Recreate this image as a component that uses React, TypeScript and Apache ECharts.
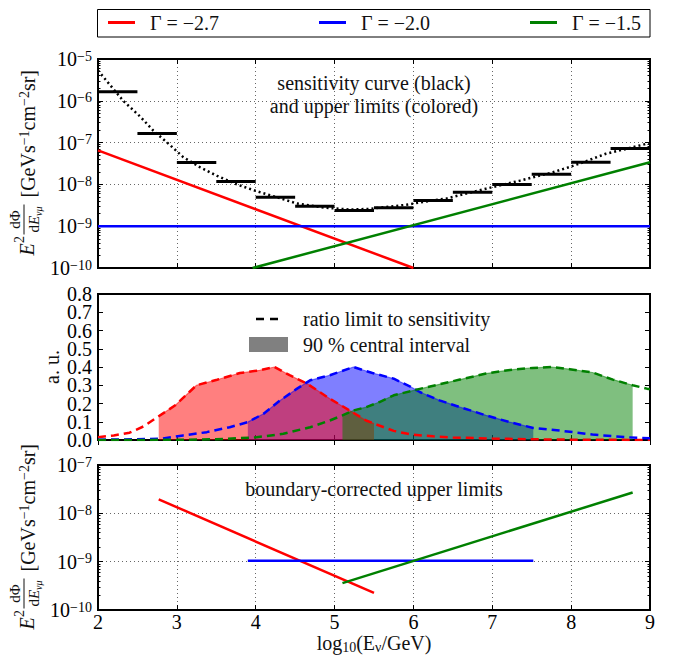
import React, { useEffect, useRef } from 'react';
import * as echarts from 'echarts';

const FONT = "'Liberation Serif', 'Times New Roman', 'DejaVu Serif', serif";

// ---------- Panel 1: sensitivity (black) and upper limits (colored) ----------
const binEdges = [2, 2.5, 3, 3.5, 4, 4.5, 5, 5.5, 6, 6.5, 7, 7.5, 8, 8.5, 9];
const sensitivityBins = [1.64e-6, 1.66e-7, 3.34e-8, 1.17e-8, 4.9e-9, 3.0e-9, 2.36e-9, 2.75e-9, 4.1e-9, 6.5e-9, 1.0e-8, 1.75e-8, 3.4e-8, 7.2e-8];
const sensitivityCurve: [number, number][] = [
  [2.0, 5.3e-6], [2.32, 1.0e-6], [2.54, 4.1e-7], [2.70, 1.95e-7], [2.92, 8.5e-8], [3.08, 4.5e-8],
  [3.29, 2.6e-8], [3.51, 1.6e-8], [3.76, 1.0e-8], [4.01, 6.9e-9], [4.27, 4.9e-9], [4.52, 3.5e-9],
  [4.86, 2.8e-9], [5.19, 2.5e-9], [5.45, 2.6e-9], [5.70, 2.95e-9], [5.91, 3.25e-9], [6.12, 3.8e-9],
  [6.42, 4.6e-9], [6.92, 7.9e-9], [7.35, 1.23e-8], [7.77, 1.95e-8], [7.98, 2.6e-8], [8.19, 3.6e-8],
  [8.44, 5.4e-8], [8.70, 7.1e-8], [9.0, 9.8e-8],
];
const limitRed: [number, number][] = [[2, 6.5e-8], [6, 1.0e-10]];
const limitBlue: [number, number][] = [[2, 1.0e-9], [9, 1.0e-9]];
const limitGreen: [number, number][] = [[3.96, 1.0e-10], [9, 3.4e-8]];

// ---------- Panel 2: ratio limit to sensitivity ----------
const ratioRed: [number, number][] = [
  [2.0, 0.015], [2.2, 0.025], [2.4, 0.04], [2.58, 0.075], [2.77, 0.13], [2.98, 0.19], [3.25, 0.30],
  [3.51, 0.33], [3.80, 0.367], [4.05, 0.382], [4.24, 0.40], [4.43, 0.355], [4.65, 0.309], [4.94, 0.226],
  [5.19, 0.162], [5.40, 0.107], [5.50, 0.09], [5.75, 0.05], [5.97, 0.03], [6.25, 0.02], [6.5, 0.014],
  [7.0, 0.008], [7.5, 0.004], [8.0, 0.002], [9.0, 0.0],
];
const ratioBlue: [number, number][] = [
  [2.0, 0.002], [2.5, 0.004], [2.8, 0.007], [3.08, 0.025], [3.38, 0.043], [3.67, 0.07], [3.90, 0.098],
  [4.10, 0.144], [4.31, 0.217], [4.52, 0.28], [4.69, 0.327], [4.94, 0.355], [5.24, 0.40], [5.48, 0.367],
  [5.75, 0.336], [5.97, 0.29], [6.08, 0.263], [6.33, 0.217], [6.59, 0.18], [6.92, 0.135], [7.22, 0.098],
  [7.52, 0.066], [7.85, 0.052], [8.27, 0.03], [8.70, 0.015], [9.0, 0.01],
];
const ratioGreen: [number, number][] = [
  [2.0, 0.0], [3.0, 0.001], [3.5, 0.004], [4.01, 0.015], [4.35, 0.034], [4.69, 0.07], [4.94, 0.107],
  [5.10, 0.135], [5.24, 0.162], [5.40, 0.18], [5.57, 0.208], [5.75, 0.245], [6.08, 0.28], [6.33, 0.305],
  [6.59, 0.331], [6.92, 0.364], [7.26, 0.386], [7.51, 0.395], [7.75, 0.40], [7.98, 0.388], [8.27, 0.37],
  [8.53, 0.331], [8.78, 0.30], [8.97, 0.28], [9.0, 0.28],
];
const intervalRed = [2.77, 5.50];
const intervalBlue = [3.90, 7.52];
const intervalGreen = [5.10, 8.78];
const ratioTicksEven = [0, 0.2, 0.4, 0.6, 0.8];
const ratioTicksOdd = [0.1, 0.3, 0.5, 0.7];

// ---------- Panel 3: boundary-corrected upper limits ----------
const correctedRed: [number, number][] = [[2.77, 1.95e-8], [5.50, 2.25e-10]];
const correctedBlue: [number, number][] = [[3.90, 1.05e-9], [7.52, 1.05e-9]];
const correctedGreen: [number, number][] = [[5.10, 3.6e-10], [8.78, 2.7e-8]];

// ---------- texts ----------
const legendLabels = ['Γ = −2.7', 'Γ = −2.0', 'Γ = −1.5'];
const legendColors = ['#ff0000', '#0000ff', '#008000'];
const minorMultipliers = [2, 3, 4, 5, 6, 7, 8, 9];

const RED = '#ff0000';
const BLUE = '#0000ff';
const GREEN = '#008000';

function minorLogTicks(lo: number, hi: number) {
  const out: number[] = [];
  for (let n = lo; n < hi; n++) for (const k of minorMultipliers) out.push(n + Math.log10(k));
  return out;
}

const tickStyle = { show: true, inside: true, length: 5, lineStyle: { color: '#000', width: 1 } };
const gridLine = { show: true, lineStyle: { color: '#000', width: 0.6, type: [1, 3] as any } };

const powRich = {
  b: { fontFamily: FONT, fontSize: 20, lineHeight: 20, color: '#000' },
  s: { fontFamily: FONT, fontSize: 14, lineHeight: 12, verticalAlign: 'top', color: '#000' },
};

function fmtPow(v: number) {
  const e = Math.round(Math.log10(v));
  return `{b|10}{s|−${Math.abs(e)}}`;
}

function xAx(gridIndex: number, position: 'top' | 'bottom', labels: boolean, split: boolean) {
  return {
    type: 'value', gridIndex, position, min: 2, max: 9, interval: 1,
    axisLine: { show: false },
    axisTick: tickStyle,
    axisLabel: { show: labels, color: '#000', fontFamily: FONT, fontSize: 20, lineHeight: 18, margin: 3, showMinLabel: true, showMaxLabel: true, hideOverlap: false },
    splitLine: split ? gridLine : { show: false },
  };
}

function yLog(gridIndex: number, position: 'left' | 'right', min: number, max: number, labels: boolean, split: boolean) {
  return {
    type: 'log', logBase: 10, gridIndex, position, min, max,
    axisLine: { show: false },
    axisTick: tickStyle,
    axisLabel: labels
      ? { show: true, margin: 6, showMinLabel: true, showMaxLabel: true, hideOverlap: false, formatter: fmtPow, rich: powRich }
      : { show: false },
    splitLine: split ? gridLine : { show: false },
  };
}

function yMinor(gridIndex: number, position: 'left' | 'right', lo: number, hi: number) {
  return {
    type: 'value', gridIndex, position, min: lo, max: hi,
    axisLine: { show: false },
    axisTick: { show: true, inside: true, length: 2.5, lineStyle: { color: '#000', width: 1 }, customValues: minorLogTicks(lo, hi) },
    axisLabel: { show: false },
    splitLine: { show: false },
  };
}

function yLin(gridIndex: number, position: 'left' | 'right', labelValues: number[] | null, ticks: boolean) {
  return {
    type: 'value', gridIndex, position, min: 0, max: 0.8, interval: 0.1,
    axisLine: { show: false },
    axisTick: ticks ? tickStyle : { show: false },
    axisLabel: labelValues
      ? {
          show: true, margin: 6, color: '#000', fontFamily: FONT, fontSize: 20, hideOverlap: false,
          showMinLabel: true, showMaxLabel: true, customValues: labelValues, formatter: (v: number) => v.toFixed(1),
        }
      : { show: false },
    splitLine: { show: false },
  };
}

function lineSeries(data: [number, number][], color: string, xi: number, yi: number, extra: any = {}) {
  return {
    type: 'line', data, xAxisIndex: xi, yAxisIndex: yi, symbol: 'none', silent: true, clip: true,
    lineStyle: { color, width: 2.5, ...(extra.lineStyle || {}) },
  };
}

function fillSeries(curve: [number, number][], interval: number[], color: string) {
  const data = curve.filter((p) => p[0] >= interval[0] && p[0] <= interval[1]);
  return {
    type: 'line', data, xAxisIndex: 2, yAxisIndex: 4, symbol: 'none', silent: true,
    lineStyle: { color, width: 1.2, opacity: 0.5 },
    areaStyle: { color, opacity: 0.5 },
  };
}

const gridBase = { show: true, borderColor: '#000', borderWidth: 2, backgroundColor: 'transparent', containLabel: false, outerBoundsMode: 'none' };

function txt(text: string, x: number, y: number, align = 'center', extra: any = {}) {
  return {
    type: 'text', x, y, silent: true,
    style: {
      text, fill: '#111', fontFamily: FONT, fontSize: 20,
      align, textAlign: align, verticalAlign: 'middle', textVerticalAlign: 'middle', ...extra,
    },
  };
}

const supRich = {
  n: { fontFamily: FONT, fontSize: 20, lineHeight: 22, color: '#111' },
  sup: { fontFamily: FONT, fontSize: 14, lineHeight: 12, verticalAlign: 'top', color: '#111' },
  sub: { fontFamily: FONT, fontSize: 14, lineHeight: 12, verticalAlign: 'bottom', color: '#111' },
  i: { fontFamily: FONT, fontSize: 15, lineHeight: 18, fontStyle: 'italic', color: '#111' },
  d: { fontFamily: FONT, fontSize: 15, lineHeight: 18, color: '#111' },
  ss: { fontFamily: FONT, fontSize: 10, lineHeight: 10, fontStyle: 'italic', verticalAlign: 'bottom', color: '#111' },
};

function fluxLabel(cx: number, cy: number) {
  return {
    type: 'group', x: cx, y: cy, rotation: Math.PI / 2, silent: true,
    children: [
      txt('E', -92, -1, 'left', { fontStyle: 'italic' }),
      txt('2', -79.5, -9, 'left', { fontSize: 14 }),
      txt('dΦ', -56, -13, 'center', { fontSize: 15 }),
      { type: 'line', shape: { x1: -71, y1: -4, x2: -41, y2: -4 }, style: { stroke: '#111', lineWidth: 1 } },
      txt('{d|d}{i|E}{ss|νμ}', -56, 6, 'center', { rich: supRich }),
      txt('{n|[GeVs}{sup|−1}{n|cm}{sup|−2}{n|sr]}', -34, 0, 'left', { rich: supRich }),
    ],
  };
}

function buildOption() {
  const binData = sensitivityBins.map((v, i) => [binEdges[i], binEdges[i + 1], v]);
  const graphics: any[] = [
    // top legend
    { type: 'rect', shape: { x: 97.5, y: 9.5, width: 552.5, height: 27.5 }, style: { fill: '#fff', stroke: '#000', lineWidth: 1 }, silent: true },
    ...legendLabels.flatMap((lab, i) => {
      const x0 = 108 + i * 211;
      return [
        { type: 'line', shape: { x1: x0, y1: 22.5, x2: x0 + 27, y2: 22.5 }, style: { stroke: legendColors[i], lineWidth: 3 }, silent: true },
        txt(lab, x0 + 42, 23, 'left'),
      ];
    }),
    // panel 1 annotation
    txt('sensitivity curve (black)', 374, 83),
    txt('and upper limits (colored)', 374, 106),
    // panel 2 legend
    { type: 'line', shape: { x1: 256, y1: 319, x2: 279, y2: 319 }, style: { stroke: '#000', lineWidth: 2.5, lineDash: [8, 6] }, silent: true },
    txt('ratio limit to sensitivity', 303, 319, 'left'),
    { type: 'rect', shape: { x: 249, y: 337, width: 39, height: 15 }, style: { fill: '#808080' }, silent: true },
    txt('90 % central interval', 303, 345, 'left'),
    // panel 3 annotation
    txt('boundary-corrected upper limits', 374, 489),
    // x axis title
    txt('{n|log}{sub|10}{n|(E}{sub|ν}{n|/GeV)}', 374, 643, 'center', { rich: supRich }),
    // y axis titles
    fluxLabel(28, 163.5),
    fluxLabel(28, 537.5),
    { type: 'group', x: 52, y: 367, rotation: Math.PI / 2, silent: true, children: [txt('a. u.', 0, 0, 'center')] },
  ];

  return {
    animation: false,
    backgroundColor: '#fff',
    textStyle: { fontFamily: FONT },
    grid: [
      { ...gridBase, left: 98, top: 59, width: 552, height: 209 },
      { ...gridBase, left: 98, top: 294, width: 552, height: 146 },
      { ...gridBase, left: 98, top: 465, width: 552, height: 145 },
    ],
    xAxis: [
      xAx(0, 'bottom', false, true),
      xAx(0, 'top', false, false),
      xAx(1, 'bottom', false, false),
      xAx(1, 'top', false, false),
      xAx(2, 'bottom', true, true),
      xAx(2, 'top', false, false),
    ],
    yAxis: [
      yLog(0, 'left', 1e-10, 1e-5, true, true),
      yLog(0, 'right', 1e-10, 1e-5, false, false),
      yMinor(0, 'left', -10, -5),
      yMinor(0, 'right', -10, -5),
      yLin(1, 'left', ratioTicksEven, true),
      yLin(1, 'right', null, true),
      yLog(2, 'left', 1e-10, 1e-7, true, true),
      yLog(2, 'right', 1e-10, 1e-7, false, false),
      yMinor(2, 'left', -10, -7),
      yMinor(2, 'right', -10, -7),
      yLin(1, 'left', ratioTicksOdd, false),
    ],
    series: [
      // panel 1
      lineSeries(limitRed, RED, 0, 0),
      lineSeries(limitBlue, BLUE, 0, 0),
      lineSeries(limitGreen, GREEN, 0, 0),
      lineSeries(sensitivityCurve, '#000', 0, 0, { lineStyle: { width: 2.5, type: [2, 3] } }),
      {
        type: 'custom', xAxisIndex: 0, yAxisIndex: 0, silent: true, z: 5,
        encode: { x: [0, 1], y: 2 },
        data: binData,
        renderItem: (params: any, api: any) => {
          const p0 = api.coord([api.value(0), api.value(2)]);
          const p1 = api.coord([api.value(1), api.value(2)]);
          return { type: 'line', shape: { x1: p0[0], y1: p0[1], x2: p1[0], y2: p1[1] }, style: { stroke: '#000', lineWidth: 3 } };
        },
      },
      // panel 2 fills (blue, red, green order)
      fillSeries(ratioBlue, intervalBlue, BLUE),
      fillSeries(ratioRed, intervalRed, RED),
      fillSeries(ratioGreen, intervalGreen, GREEN),
      lineSeries(ratioRed, RED, 2, 4, { lineStyle: { type: [8, 5] } }),
      lineSeries(ratioBlue, BLUE, 2, 4, { lineStyle: { type: [8, 5] } }),
      lineSeries(ratioGreen, GREEN, 2, 4, { lineStyle: { type: [8, 5] } }),
      // panel 3
      lineSeries(correctedRed, RED, 4, 6),
      lineSeries(correctedBlue, BLUE, 4, 6),
      lineSeries(correctedGreen, GREEN, 4, 6),
    ],
    graphic: graphics,
  };
}

export default function App() {
  const ref = useRef<HTMLDivElement>(null);
  useEffect(() => {
    document.body.style.margin = '0';
    const chart = echarts.init(ref.current!, null, { renderer: 'svg' });
    chart.setOption(buildOption() as any);
    return () => chart.dispose();
  }, []);
  return <div ref={ref} style={{ width: 673, height: 658 }} />;
}
